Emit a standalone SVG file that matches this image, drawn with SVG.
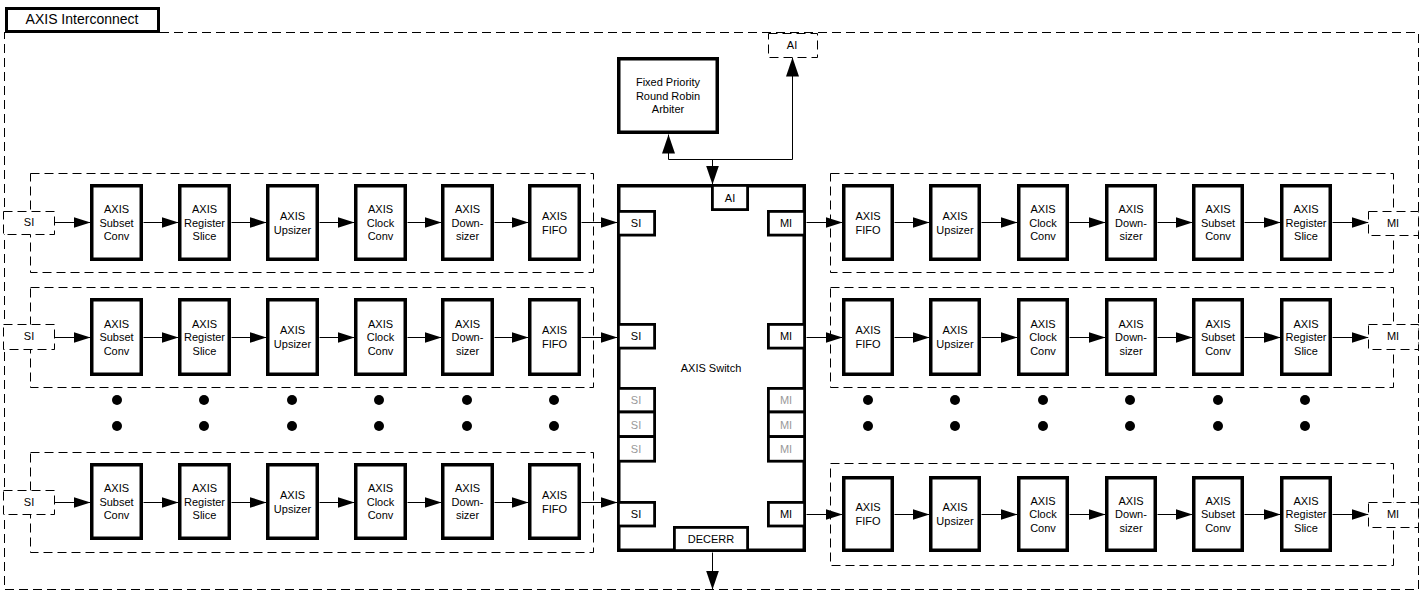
<svg xmlns="http://www.w3.org/2000/svg" width="1426" height="597" viewBox="0 0 1426 597">
<defs>
<style>
text{font-family:"Liberation Sans",Arial,sans-serif;font-size:11px;fill:#000;text-anchor:middle}
.mod rect{fill:#fff;stroke:#000;stroke-width:3.5}
.port{fill:#fff;stroke:#000;stroke-width:2.8}
.dash{fill:none;stroke:#000;stroke-width:1;stroke-dasharray:9 5}
.dashw{fill:#fff;stroke:#000;stroke-width:1;stroke-dasharray:9 5}
.wire{fill:none;stroke:#000;stroke-width:1}
.grey{fill:#999}
.dot{fill:#000}
</style>
<marker id="ah" viewBox="0 0 17 11" refX="17" refY="5.5" markerWidth="17" markerHeight="11" markerUnits="userSpaceOnUse" orient="auto"><path d="M0,0 L17,5.5 L0,11 z" fill="#000"/></marker>
<marker id="av" viewBox="0 0 19 13" refX="19" refY="6.5" markerWidth="19" markerHeight="13" markerUnits="userSpaceOnUse" orient="auto"><path d="M0,0 L19,6.5 L0,13 z" fill="#000"/></marker>
</defs>
<rect width="1426" height="597" fill="#fff"/>

<!-- outer boundary -->
<g id="interconnect">
<path class="dash" d="M160,32.5 H1418.5 V589.5 H4.5 V32"/>
<rect x="6.5" y="8.5" width="152" height="23" fill="#fff" stroke="#000" stroke-width="3"/>
<text x="82" y="24" style="font-size:14px">AXIS Interconnect</text>
</g>

<!-- row group boundaries -->
<g id="row-groups" transform="translate(0.5,0.5)">
<rect class="dash" x="30" y="173" width="563" height="99"/>
<rect class="dash" x="30" y="287" width="563" height="100"/>
<rect class="dash" x="30" y="452" width="563" height="100"/>
<rect class="dash" x="830" y="173" width="563" height="99"/>
<rect class="dash" x="830" y="287" width="563" height="100"/>
<rect class="dash" x="830" y="463" width="563" height="102"/>
</g>

<!-- connectors -->
<g id="connectors" transform="translate(0.5,0.5)">
<path class="wire" d="M668,159 V134" marker-end="url(#av)"/>
<path class="wire" d="M668,159 H792 V57" marker-end="url(#av)"/>
<path class="wire" d="M712,159 V184" marker-end="url(#av)"/>
<path class="wire" d="M712,552 V589" marker-end="url(#av)"/>
<path class="wire" d="M54,222 H90" marker-end="url(#ah)"/>
<path class="wire" d="M143,222 H178" marker-end="url(#ah)"/>
<path class="wire" d="M231,222 H266" marker-end="url(#ah)"/>
<path class="wire" d="M319,222 H354" marker-end="url(#ah)"/>
<path class="wire" d="M407,222 H441" marker-end="url(#ah)"/>
<path class="wire" d="M494,222 H528" marker-end="url(#ah)"/>
<path class="wire" d="M581,222 H617" marker-end="url(#ah)"/>
<path class="wire" d="M54,337 H90" marker-end="url(#ah)"/>
<path class="wire" d="M143,337 H178" marker-end="url(#ah)"/>
<path class="wire" d="M231,337 H266" marker-end="url(#ah)"/>
<path class="wire" d="M319,337 H354" marker-end="url(#ah)"/>
<path class="wire" d="M407,337 H441" marker-end="url(#ah)"/>
<path class="wire" d="M494,337 H528" marker-end="url(#ah)"/>
<path class="wire" d="M581,337 H617" marker-end="url(#ah)"/>
<path class="wire" d="M54,502 H90" marker-end="url(#ah)"/>
<path class="wire" d="M143,502 H178" marker-end="url(#ah)"/>
<path class="wire" d="M231,502 H266" marker-end="url(#ah)"/>
<path class="wire" d="M319,502 H354" marker-end="url(#ah)"/>
<path class="wire" d="M407,502 H441" marker-end="url(#ah)"/>
<path class="wire" d="M494,502 H528" marker-end="url(#ah)"/>
<path class="wire" d="M581,502 H617" marker-end="url(#ah)"/>
<path class="wire" d="M806,222 H842" marker-end="url(#ah)"/>
<path class="wire" d="M894,222 H929" marker-end="url(#ah)"/>
<path class="wire" d="M981,222 H1017" marker-end="url(#ah)"/>
<path class="wire" d="M1069,222 H1105" marker-end="url(#ah)"/>
<path class="wire" d="M1157,222 H1192" marker-end="url(#ah)"/>
<path class="wire" d="M1244,222 H1280" marker-end="url(#ah)"/>
<path class="wire" d="M1332,222 H1368" marker-end="url(#ah)"/>
<path class="wire" d="M806,337 H842" marker-end="url(#ah)"/>
<path class="wire" d="M894,337 H929" marker-end="url(#ah)"/>
<path class="wire" d="M981,337 H1017" marker-end="url(#ah)"/>
<path class="wire" d="M1069,337 H1105" marker-end="url(#ah)"/>
<path class="wire" d="M1157,337 H1192" marker-end="url(#ah)"/>
<path class="wire" d="M1244,337 H1280" marker-end="url(#ah)"/>
<path class="wire" d="M1332,337 H1368" marker-end="url(#ah)"/>
<path class="wire" d="M806,514 H842" marker-end="url(#ah)"/>
<path class="wire" d="M894,514 H929" marker-end="url(#ah)"/>
<path class="wire" d="M981,514 H1017" marker-end="url(#ah)"/>
<path class="wire" d="M1069,514 H1105" marker-end="url(#ah)"/>
<path class="wire" d="M1157,514 H1192" marker-end="url(#ah)"/>
<path class="wire" d="M1244,514 H1280" marker-end="url(#ah)"/>
<path class="wire" d="M1332,514 H1368" marker-end="url(#ah)"/>
</g>

<!-- external ports -->
<g id="ext-ai"><rect class="dashw" x="768.5" y="33.5" width="49" height="24"/><text x="792" y="49">AI</text></g>
<g id="ext-si1"><rect class="dashw" x="3.5" y="211.5" width="51" height="23"/><text x="29" y="226">SI</text></g>
<g id="ext-si2"><rect class="dashw" x="3.5" y="324.5" width="51" height="25"/><text x="29" y="340">SI</text></g>
<g id="ext-si3"><rect class="dashw" x="3.5" y="490.5" width="51" height="24"/><text x="29" y="506">SI</text></g>
<g id="ext-mi1"><rect class="dashw" x="1368.5" y="211.5" width="50" height="24"/><text x="1393" y="227">MI</text></g>
<g id="ext-mi2"><rect class="dashw" x="1368.5" y="324.5" width="50" height="25"/><text x="1393" y="340">MI</text></g>
<g id="ext-mi3"><rect class="dashw" x="1368.5" y="502.5" width="50" height="25"/><text x="1393" y="518">MI</text></g>

<!-- arbiter -->
<g id="arbiter">
<rect x="618.75" y="58.75" width="98.5" height="73.5" fill="#fff" stroke="#000" stroke-width="3.5"/>
<text x="668" y="86">Fixed Priority</text>
<text x="668" y="99.5">Round Robin</text>
<text x="668" y="113">Arbiter</text>
</g>

<!-- switch -->
<g id="switch">
<rect x="618.75" y="185.75" width="185.5" height="364.5" fill="#fff" stroke="#000" stroke-width="3.5"/>
<text x="711" y="372">AXIS Switch</text>
<rect class="port" x="712.4" y="185.4" width="35.2" height="24.2"/><text x="730" y="202">AI</text>
<rect class="port" x="618.4" y="211.4" width="36.2" height="23.7"/><text x="636" y="227">SI</text>
<rect class="port" x="618.4" y="324.4" width="36.2" height="23.7"/><text x="636" y="340">SI</text>
<rect class="port" x="618.4" y="388.4" width="36.2" height="23.6"/><text class="grey" x="636" y="404">SI</text>
<rect class="port" x="618.4" y="412" width="36.2" height="24.6"/><text class="grey" x="636" y="428.5">SI</text>
<rect class="port" x="618.4" y="436.6" width="36.2" height="24.6"/><text class="grey" x="636" y="453">SI</text>
<rect class="port" x="618.4" y="502.4" width="36.2" height="23.6"/><text x="636" y="518">SI</text>
<rect class="port" x="768.4" y="211.4" width="36.2" height="23.7"/><text x="786" y="227">MI</text>
<rect class="port" x="768.4" y="324.4" width="36.2" height="23.7"/><text x="786" y="340">MI</text>
<rect class="port" x="768.4" y="388.4" width="36.2" height="23.6"/><text class="grey" x="786" y="404">MI</text>
<rect class="port" x="768.4" y="412" width="36.2" height="24.6"/><text class="grey" x="786" y="428.5">MI</text>
<rect class="port" x="768.4" y="436.6" width="36.2" height="24.6"/><text class="grey" x="786" y="453">MI</text>
<rect class="port" x="768.4" y="502.4" width="36.2" height="23.6"/><text x="786" y="518">MI</text>
<rect class="port" x="674.4" y="527.4" width="73.2" height="23.2"/><text x="711" y="543">DECERR</text>
</g>

<!-- left row 1 -->
<g id="l1-subset" class="mod"><rect x="91.75" y="185.75" width="49.5" height="73.5"/><text x="116.5" y="213">AXIS</text><text x="116.5" y="226.5">Subset</text><text x="116.5" y="240">Conv</text></g>
<g id="l1-regslice" class="mod"><rect x="179.75" y="185.75" width="49.5" height="73.5"/><text x="204.5" y="213">AXIS</text><text x="204.5" y="226.5">Register</text><text x="204.5" y="240">Slice</text></g>
<g id="l1-upsizer" class="mod"><rect x="267.75" y="185.75" width="49.5" height="73.5"/><text x="292.5" y="219.5">AXIS</text><text x="292.5" y="233.5">Upsizer</text></g>
<g id="l1-clock" class="mod"><rect x="355.75" y="185.75" width="49.5" height="73.5"/><text x="380.5" y="213">AXIS</text><text x="380.5" y="226.5">Clock</text><text x="380.5" y="240">Conv</text></g>
<g id="l1-downsizer" class="mod"><rect x="442.75" y="185.75" width="49.5" height="73.5"/><text x="467.5" y="213">AXIS</text><text x="467.5" y="226.5">Down-</text><text x="467.5" y="240">sizer</text></g>
<g id="l1-fifo" class="mod"><rect x="529.75" y="185.75" width="49.5" height="73.5"/><text x="554.5" y="219.5">AXIS</text><text x="554.5" y="233.5">FIFO</text></g>

<!-- left row 2 -->
<g id="l2-subset" class="mod"><rect x="91.75" y="299.75" width="49.5" height="74.5"/><text x="116.5" y="327.5">AXIS</text><text x="116.5" y="341">Subset</text><text x="116.5" y="354.5">Conv</text></g>
<g id="l2-regslice" class="mod"><rect x="179.75" y="299.75" width="49.5" height="74.5"/><text x="204.5" y="327.5">AXIS</text><text x="204.5" y="341">Register</text><text x="204.5" y="354.5">Slice</text></g>
<g id="l2-upsizer" class="mod"><rect x="267.75" y="299.75" width="49.5" height="74.5"/><text x="292.5" y="334">AXIS</text><text x="292.5" y="348">Upsizer</text></g>
<g id="l2-clock" class="mod"><rect x="355.75" y="299.75" width="49.5" height="74.5"/><text x="380.5" y="327.5">AXIS</text><text x="380.5" y="341">Clock</text><text x="380.5" y="354.5">Conv</text></g>
<g id="l2-downsizer" class="mod"><rect x="442.75" y="299.75" width="49.5" height="74.5"/><text x="467.5" y="327.5">AXIS</text><text x="467.5" y="341">Down-</text><text x="467.5" y="354.5">sizer</text></g>
<g id="l2-fifo" class="mod"><rect x="529.75" y="299.75" width="49.5" height="74.5"/><text x="554.5" y="334">AXIS</text><text x="554.5" y="348">FIFO</text></g>

<!-- left row 3 -->
<g id="l3-subset" class="mod"><rect x="91.75" y="464.75" width="49.5" height="73.5"/><text x="116.5" y="492">AXIS</text><text x="116.5" y="505.5">Subset</text><text x="116.5" y="519">Conv</text></g>
<g id="l3-regslice" class="mod"><rect x="179.75" y="464.75" width="49.5" height="73.5"/><text x="204.5" y="492">AXIS</text><text x="204.5" y="505.5">Register</text><text x="204.5" y="519">Slice</text></g>
<g id="l3-upsizer" class="mod"><rect x="267.75" y="464.75" width="49.5" height="73.5"/><text x="292.5" y="498.5">AXIS</text><text x="292.5" y="512.5">Upsizer</text></g>
<g id="l3-clock" class="mod"><rect x="355.75" y="464.75" width="49.5" height="73.5"/><text x="380.5" y="492">AXIS</text><text x="380.5" y="505.5">Clock</text><text x="380.5" y="519">Conv</text></g>
<g id="l3-downsizer" class="mod"><rect x="442.75" y="464.75" width="49.5" height="73.5"/><text x="467.5" y="492">AXIS</text><text x="467.5" y="505.5">Down-</text><text x="467.5" y="519">sizer</text></g>
<g id="l3-fifo" class="mod"><rect x="529.75" y="464.75" width="49.5" height="73.5"/><text x="554.5" y="498.5">AXIS</text><text x="554.5" y="512.5">FIFO</text></g>

<!-- right row 1 -->
<g id="r1-fifo" class="mod"><rect x="843.75" y="185.75" width="48.5" height="73.5"/><text x="868" y="219.5">AXIS</text><text x="868" y="233.5">FIFO</text></g>
<g id="r1-upsizer" class="mod"><rect x="930.75" y="185.75" width="48.5" height="73.5"/><text x="955" y="219.5">AXIS</text><text x="955" y="233.5">Upsizer</text></g>
<g id="r1-clock" class="mod"><rect x="1018.75" y="185.75" width="48.5" height="73.5"/><text x="1043" y="213">AXIS</text><text x="1043" y="226.5">Clock</text><text x="1043" y="240">Conv</text></g>
<g id="r1-downsizer" class="mod"><rect x="1106.75" y="185.75" width="48.5" height="73.5"/><text x="1131" y="213">AXIS</text><text x="1131" y="226.5">Down-</text><text x="1131" y="240">sizer</text></g>
<g id="r1-subset" class="mod"><rect x="1193.75" y="185.75" width="48.5" height="73.5"/><text x="1218" y="213">AXIS</text><text x="1218" y="226.5">Subset</text><text x="1218" y="240">Conv</text></g>
<g id="r1-regslice" class="mod"><rect x="1281.75" y="185.75" width="48.5" height="73.5"/><text x="1306" y="213">AXIS</text><text x="1306" y="226.5">Register</text><text x="1306" y="240">Slice</text></g>

<!-- right row 2 -->
<g id="r2-fifo" class="mod"><rect x="843.75" y="299.75" width="48.5" height="74.5"/><text x="868" y="334">AXIS</text><text x="868" y="348">FIFO</text></g>
<g id="r2-upsizer" class="mod"><rect x="930.75" y="299.75" width="48.5" height="74.5"/><text x="955" y="334">AXIS</text><text x="955" y="348">Upsizer</text></g>
<g id="r2-clock" class="mod"><rect x="1018.75" y="299.75" width="48.5" height="74.5"/><text x="1043" y="327.5">AXIS</text><text x="1043" y="341">Clock</text><text x="1043" y="354.5">Conv</text></g>
<g id="r2-downsizer" class="mod"><rect x="1106.75" y="299.75" width="48.5" height="74.5"/><text x="1131" y="327.5">AXIS</text><text x="1131" y="341">Down-</text><text x="1131" y="354.5">sizer</text></g>
<g id="r2-subset" class="mod"><rect x="1193.75" y="299.75" width="48.5" height="74.5"/><text x="1218" y="327.5">AXIS</text><text x="1218" y="341">Subset</text><text x="1218" y="354.5">Conv</text></g>
<g id="r2-regslice" class="mod"><rect x="1281.75" y="299.75" width="48.5" height="74.5"/><text x="1306" y="327.5">AXIS</text><text x="1306" y="341">Register</text><text x="1306" y="354.5">Slice</text></g>

<!-- right row 3 -->
<g id="r3-fifo" class="mod"><rect x="843.75" y="477.75" width="48.5" height="72.5"/><text x="868" y="511">AXIS</text><text x="868" y="525">FIFO</text></g>
<g id="r3-upsizer" class="mod"><rect x="930.75" y="477.75" width="48.5" height="72.5"/><text x="955" y="511">AXIS</text><text x="955" y="525">Upsizer</text></g>
<g id="r3-clock" class="mod"><rect x="1018.75" y="477.75" width="48.5" height="72.5"/><text x="1043" y="504.5">AXIS</text><text x="1043" y="518">Clock</text><text x="1043" y="531.5">Conv</text></g>
<g id="r3-downsizer" class="mod"><rect x="1106.75" y="477.75" width="48.5" height="72.5"/><text x="1131" y="504.5">AXIS</text><text x="1131" y="518">Down-</text><text x="1131" y="531.5">sizer</text></g>
<g id="r3-subset" class="mod"><rect x="1193.75" y="477.75" width="48.5" height="72.5"/><text x="1218" y="504.5">AXIS</text><text x="1218" y="518">Subset</text><text x="1218" y="531.5">Conv</text></g>
<g id="r3-regslice" class="mod"><rect x="1281.75" y="477.75" width="48.5" height="72.5"/><text x="1306" y="504.5">AXIS</text><text x="1306" y="518">Register</text><text x="1306" y="531.5">Slice</text></g>

<!-- ellipsis dots -->
<g id="dots" class="dot">
<circle cx="117" cy="400" r="5"/><circle cx="117" cy="426" r="5"/>
<circle cx="204" cy="400" r="5"/><circle cx="204" cy="426" r="5"/>
<circle cx="292" cy="400" r="5"/><circle cx="292" cy="426" r="5"/>
<circle cx="379" cy="400" r="5"/><circle cx="379" cy="426" r="5"/>
<circle cx="467" cy="400" r="5"/><circle cx="467" cy="426" r="5"/>
<circle cx="554" cy="400" r="5"/><circle cx="554" cy="426" r="5"/>
<circle cx="868" cy="400" r="5"/><circle cx="868" cy="426" r="5"/>
<circle cx="955" cy="400" r="5"/><circle cx="955" cy="426" r="5"/>
<circle cx="1043" cy="400" r="5"/><circle cx="1043" cy="426" r="5"/>
<circle cx="1130" cy="400" r="5"/><circle cx="1130" cy="426" r="5"/>
<circle cx="1218" cy="400" r="5"/><circle cx="1218" cy="426" r="5"/>
<circle cx="1305" cy="400" r="5"/><circle cx="1305" cy="426" r="5"/>
</g>
</svg>
